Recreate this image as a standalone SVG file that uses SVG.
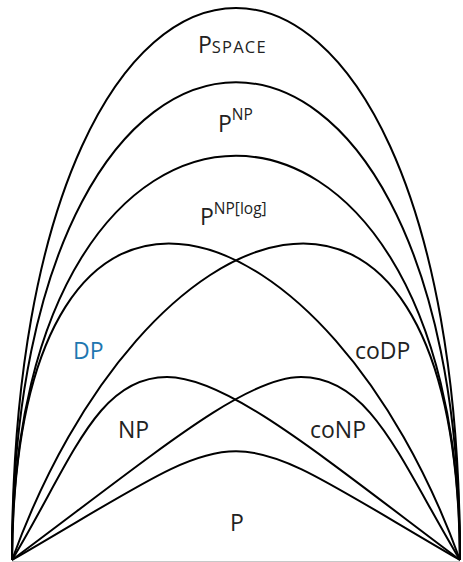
<svg xmlns="http://www.w3.org/2000/svg" width="463" height="562" viewBox="0 0 463 562">
  <style>
    .arc { fill: none; stroke: #000; stroke-width: 2; stroke-linejoin: round; }
    .lbl { font-family: "Open Sans", "Noto Sans", sans-serif; font-size: 23px; fill: #222; }
    .sup { font-size: 15.5px; }
    .sc { font-size: 16.5px; letter-spacing: 1.2px; }
    .blue { fill: #1f77b0; }
    .base { stroke: #c8c8c8; stroke-width: 1; }
  </style>
  <rect width="463" height="562" fill="#fff"/>
  <line class="base" x1="12" y1="561.5" x2="460" y2="561.5"/>

  <!-- complexity classes: each boundary joins the two common corners -->
  <g id="pspace">
    <path class="arc" d="M12,560 C12,-176 460,-176 460,560"/>
    <text class="lbl" x="198" y="53">P<tspan class="sc">SPACE</tspan></text>
  </g>
  <g id="pnp">
    <path class="arc" d="M12,560 C12,-77 460,-77 460,560"/>
    <text class="lbl" x="218" y="132">P<tspan class="sup" y="120">NP</tspan></text>
  </g>
  <g id="pnplog">
    <path class="arc" d="M12,560 C12,21 460,21 460,560"/>
    <text class="lbl" x="200" y="225">P<tspan class="sup" y="214">NP[log]</tspan></text>
  </g>
  <g id="dp">
    <path class="arc" d="M12,560 C16,80 330,200 460,560"/>
    <text class="lbl blue" x="73" y="359">DP</text>
  </g>
  <g id="codp">
    <path class="arc" d="M12,560 C142,200 456,80 460,560"/>
    <text class="lbl" x="355" y="359">coDP</text>
  </g>
  <g id="np">
    <path class="arc" d="M12,560 C72,460 97,377 167,377 C227,377 320,455 460,560"/>
    <text class="lbl" x="118" y="438">NP</text>
  </g>
  <g id="conp">
    <path class="arc" d="M12,560 C162,448 246,377 301,377 C371,377 400,460 460,560"/>
    <text class="lbl" x="310" y="438">coNP</text>
  </g>
  <g id="p">
    <path class="arc" d="M12,560 C262,415 210,415 460,560"/>
    <text class="lbl" x="230" y="531">P</text>
  </g>
</svg>
